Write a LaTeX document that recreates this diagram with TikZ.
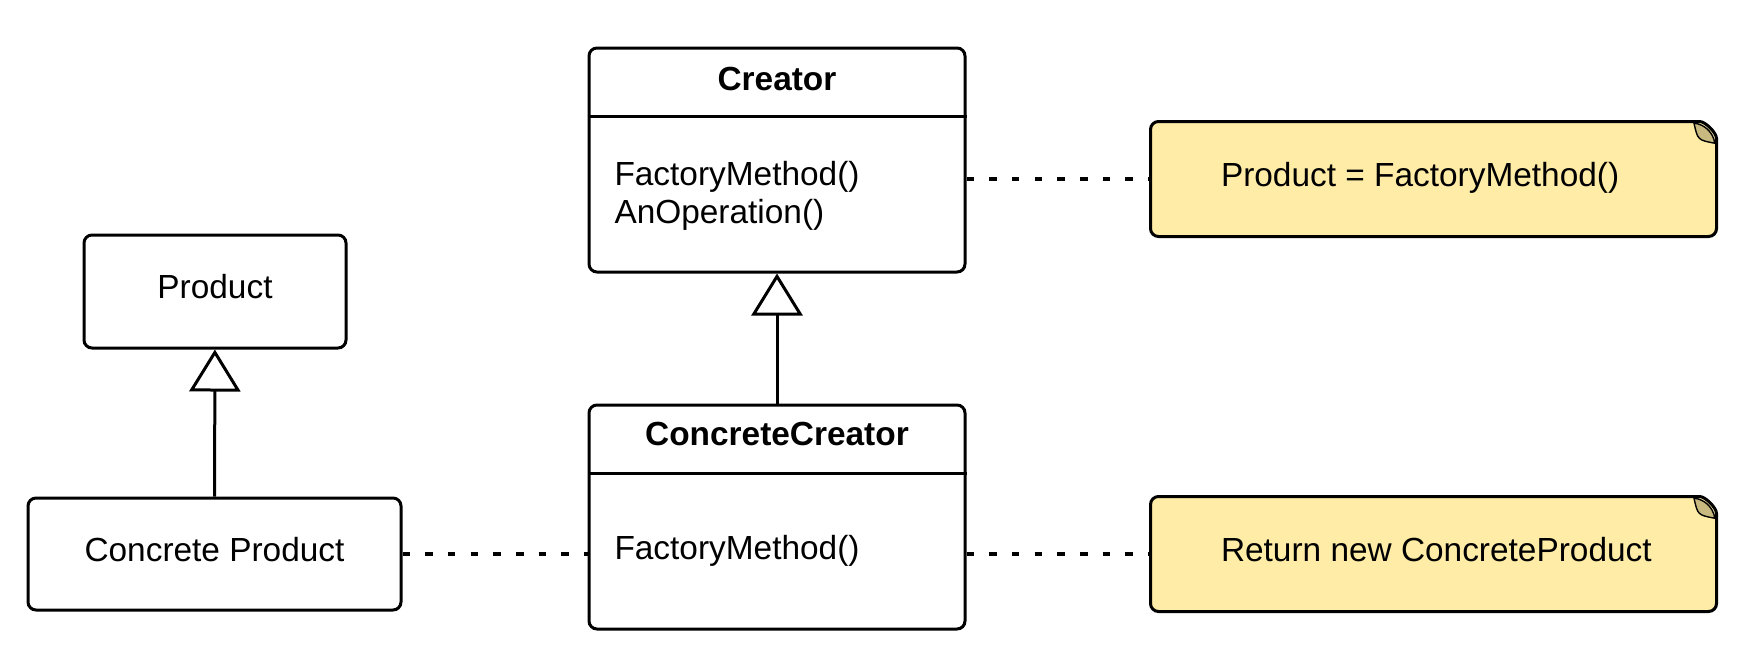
\documentclass[tikz,border=0pt]{standalone}
\usepackage{fontspec}
\setmainfont{Liberation Sans}
\usetikzlibrary{arrows.meta}
\definecolor{notefill}{RGB}{255,236,166}
\definecolor{notefold}{RGB}{200,185,128}
\begin{document}
\begin{tikzpicture}[
  x={(0.5pt,0pt)},
  y={(0pt,-0.5pt)},
  line width=1.5pt,
  font=\fontsize{16.7}{19}\selectfont,
  classbox/.style={draw,rounded corners=4pt,minimum width=188pt,minimum height=112pt},
  classname/.style={inner sep=0pt,font=\fontsize{16.7}{19}\selectfont\bfseries},
  method/.style={anchor=base west,inner sep=0pt},
  simplebox/.style={draw,rounded corners=4pt,inner sep=0pt,text height=12pt,text depth=5pt},
  notearea/.style={inner sep=0pt,minimum width=281.5pt,minimum height=56pt},
  notelabel/.style={anchor=west,inner sep=0pt,text height=12pt,text depth=5pt},
  dotline/.style={line width=1.7pt,dash pattern=on 3.75pt off 7.6pt},
  inherit/.style={-{Triangle[open,length=21pt,width=25.5pt]}}
]
\useasboundingbox (0,0) rectangle (1739,649);

\node[classbox] (creator) at (777,160) {};
\node[classname] (creatorname) at ([yshift=-16pt]creator.north) {Creator};
\draw ([yshift=-35pt]creator.north west) -- ([yshift=-35pt]creator.north east);
\node[method] (creatorfm) at (613,185) {FactoryMethod()};
\node[method] (creatorop) at (613,223) {AnOperation()};

\node[classbox] (ccreator) at (777,517) {};
\node[classname] (ccreatorname) at ([yshift=-15pt]ccreator.north) {ConcreteCreator};
\draw ([yshift=-35pt]ccreator.north west) -- ([yshift=-35pt]ccreator.north east);
\node[method] (ccreatorfm) at (613,559) {FactoryMethod()};

\node[simplebox,minimum width=131pt,minimum height=56.5pt] (product) at (215,291.5) {Product};
\node[simplebox,minimum width=186.5pt,minimum height=56pt] (cproduct) at (214.5,554) {Concrete Product};

\node[notearea] (note1) at (1433.5,179) {};
\node[notearea] (note2) at (1433.5,554) {};
\foreach \n in {note1,note2} {
  \filldraw[fill=notefill,rounded corners=4pt]
    ([yshift=-12.5pt]\n.north east) arc[start angle=0,end angle=90,radius=12.5pt]
    -- (\n.north west) -- (\n.south west) -- (\n.south east) -- cycle;
  \coordinate (\n-c) at ([xshift=-12.5pt,yshift=-12.5pt]\n.north east);
  \filldraw[fill=notefold,line width=0.7pt]
    ([shift={(84:11.75pt)}]\n-c) arc[start angle=84,end angle=8,radius=11.75pt]
    .. controls ([shift={(46:4.5pt)}]\n-c) .. ([shift={(84:11.75pt)}]\n-c) -- cycle;
}
\node[notelabel] (note1text) at ([xshift=34.5pt]note1.west) {Product = FactoryMethod()};
\node[notelabel] (note2text) at ([xshift=34.5pt]note2.west) {Return new ConcreteProduct};

\draw[inherit] (cproduct) -- (product);
\draw[inherit] (ccreator) -- (creator);
\draw[dotline] (note1 -| creator.east) -- (note1.west);
\draw[dotline] (cproduct.east) -- (cproduct -| ccreator.west);
\draw[dotline] (note2 -| ccreator.east) -- (note2.west);
\end{tikzpicture}
\end{document}
